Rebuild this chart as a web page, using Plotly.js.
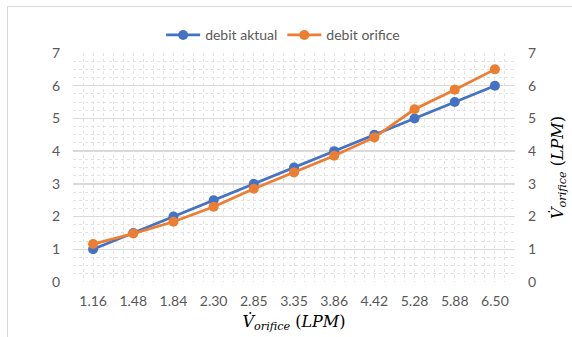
<!DOCTYPE html>
<html>
<head>
<meta charset="utf-8">
<script src="https://cdn.plot.ly/plotly-3.0.1.min.js"></script>
<style>
  html, body { margin: 0; padding: 0; background: #fff; overflow: hidden; }
  #wrap { position: relative; width: 572px; height: 337px; }
  #chart { width: 572px; height: 337px; }
  #frame { position: absolute; left: 7px; top: 6px; width: 600px; height: 400px;
           border: 1px solid #d9d9d9; pointer-events: none; }
</style>
</head>
<body>
<div id="wrap">
  <div id="chart"></div>
  <div id="frame"></div>
</div>
<script>
// Flow readings: orifice-derived flow (category labels) vs. actual flow
const flowLabels = ["1.16", "1.48", "1.84", "2.30", "2.85", "3.35", "3.86", "4.42", "5.28", "5.88", "6.50"];
const debitAktual = [1, 1.5, 2, 2.5, 3, 3.5, 4, 4.5, 5, 5.5, 6];
const debitOrifice = [1.16, 1.48, 1.84, 2.30, 2.85, 3.35, 3.86, 4.42, 5.28, 5.88, 6.50];
const yTicks = [0, 1, 2, 3, 4, 5, 6, 7];

const BLUE = "#4472C4";
const ORANGE = "#ED7D31";
const tickFont = { family: "Lato, 'Open Sans', sans-serif", size: 14, color: "#595959" };
const mathTitle = "<i>V̇</i><sub><i>orifice</i></sub> (<i>LPM</i>)";
const mathFont = { family: "'DejaVu Serif', 'Liberation Serif', serif", size: 16, color: "#000" };

const traces = [
  {
    x: flowLabels, y: debitAktual, name: "debit aktual",
    type: "scatter", mode: "lines+markers",
    line: { color: BLUE, width: 2.75 },
    marker: { color: BLUE, size: 10 }
  },
  {
    x: flowLabels, y: debitOrifice, name: "debit orifice",
    type: "scatter", mode: "lines+markers",
    line: { color: ORANGE, width: 2.75 },
    marker: { color: ORANGE, size: 10 }
  },
  // carrier for the right-hand value axis
  {
    x: flowLabels, y: debitAktual, yaxis: "y2", type: "scatter", mode: "none",
    showlegend: false, hoverinfo: "skip"
  },
  // carrier for the fine vertical grid
  {
    x: [0, flowLabels.length], y: [0, 0], xaxis: "x2", type: "scatter", mode: "none",
    showlegend: false, hoverinfo: "skip"
  }
];

const layout = {
  width: 572, height: 337,
  margin: { l: 73, r: 57, t: 53, b: 55 },
  paper_bgcolor: "#ffffff",
  plot_bgcolor: "#ffffff",
  showlegend: true,
  legend: {
    orientation: "h", xref: "container", x: 0.495, xanchor: "center",
    yref: "container", y: 0.895, yanchor: "middle",
    font: { family: "Lato, 'Open Sans', sans-serif", size: 14, color: "#595959" },
    itemwidth: 34, tracegroupgap: 0
  },
  xaxis: {
    type: "category", range: [-0.5, flowLabels.length - 0.5],
    showgrid: false, zeroline: false, showline: false,
    ticks: "", tickfont: tickFont, ticklabelstandoff: 9,
    title: { text: mathTitle, font: mathFont, standoff: 7 }
  },
  xaxis2: {
    overlaying: "x", range: [0, flowLabels.length], dtick: 0.25,
    showgrid: true, gridcolor: "#e3e3e3", griddash: "dot", gridwidth: 1,
    showticklabels: false, zeroline: false, showline: false, ticks: ""
  },
  yaxis: {
    range: [0, 7], tickvals: yTicks, ticktext: yTicks.map(String),
    showgrid: true, gridcolor: "#d9d9d9", gridwidth: 1.5,
    minor: { dtick: 0.25, showgrid: true, gridcolor: "#e3e3e3", griddash: "dot", gridwidth: 1 },
    zeroline: false, showline: false, ticks: "", tickfont: tickFont, ticklabelstandoff: 12
  },
  yaxis2: {
    overlaying: "y", side: "right", range: [0, 7],
    tickvals: yTicks, ticktext: yTicks.map(String),
    showgrid: false, zeroline: false, showline: false, ticks: "",
    tickfont: tickFont, ticklabelstandoff: 12,
    title: { text: mathTitle, font: mathFont, standoff: 16 }
  }
};

Plotly.newPlot("chart", traces, layout, { displayModeBar: false, staticPlot: true });
</script>
</body>
</html>
